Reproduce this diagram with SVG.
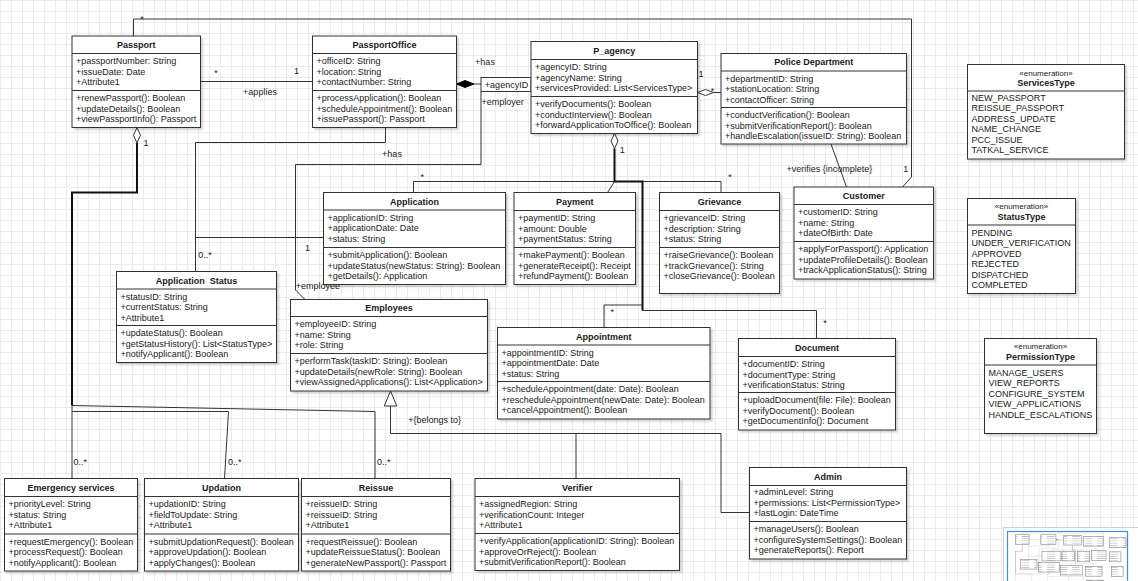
<svg xmlns="http://www.w3.org/2000/svg" width="1138" height="581" viewBox="0 0 1138 581">
<defs>
<style>
text{font-family:"Liberation Sans",Arial,sans-serif;font-size:9px;fill:#1a1a1a}
.t{font-weight:bold;text-anchor:middle}
.st{font-size:8px;text-anchor:middle}
.m{text-anchor:middle}
.box{fill:#fff;stroke:#333;stroke-width:1;filter:url(#sh)}
.sep{fill:none;stroke:#333;stroke-width:1}
.ln{fill:none;stroke:#333;stroke-width:1}
.thick{fill:none;stroke:#111;stroke-width:2}
.dh{fill:#fff;stroke:#333;stroke-width:1}
.df{fill:#000;stroke:#000;stroke-width:1}
.mm{fill:url(#mmt);stroke:#777;stroke-width:5}
</style>
<pattern id="grid" width="11" height="11" patternUnits="userSpaceOnUse"><path d="M0.5 0V11M0 0.5H11" fill="none" stroke="#ebebeb" stroke-width="1"/></pattern>
<pattern id="mmt" width="120" height="21" patternUnits="userSpaceOnUse"><rect width="120" height="21" fill="#fff"/><rect x="10" y="8" width="75" height="6" fill="#b5b5b5"/></pattern>
<filter id="sh" x="-5%" y="-5%" width="115%" height="120%"><feDropShadow dx="2" dy="2" stdDeviation="1" flood-color="#000" flood-opacity="0.18"/></filter>
</defs>
<rect width="1138" height="581" fill="#fff"/>
<rect width="1138" height="581" fill="url(#grid)"/>

<g id="connectors">
<g id="conn-lines">
<path class="ln" d="M133.5 36V19H911.5V177L902.5 187"/>
<path class="ln" d="M200.5 81.5H312.5"/>
<path class="ln" d="M474 84H481"/>
<path class="df" d="M456.5 84L465 80.5L474 84L465 87.5Z"/>
<rect x="481" y="77.5" width="50" height="14" fill="#fff" stroke="#333"/>
<path class="ln" d="M481 91.5V164.5H295.5V290L305 299.5"/>
<path class="ln" d="M385.5 127.5V142.5H195.5V271.5"/>
<path class="ln" d="M323.5 237.5H195.5"/>
<path class="ln" d="M614.5 181.5H413.5V192.5M614.5 181.5L607.5 192.5M642.5 181.5H721V192.5M642.5 305H604V327.5M642.5 310.5H816.5V338.5"/>
<path class="thick" d="M614.5 148.5V181.5H642.5V310.5"/>
<path class="dh" d="M614.5 133.5L618 141L614.5 148.5L611 141Z"/>
<path class="ln" d="M713.5 92.5H721"/>
<path class="dh" d="M697.5 92.5L705.5 89.5L713.5 92.5L705.5 95.5Z"/>
<path class="ln" d="M831 144L846.5 187"/>
<path class="ln" d="M72 405.5V478.5M72 411.5H228.5L224.5 478.5M72 405.5L375 411.5V478.5"/>
<path class="thick" d="M137 143V192.5H72V405.5"/>
<path class="dh" d="M137 127.5L140.5 135.25L137 143L133.5 135.25Z"/>
<path class="ln" d="M390.5 406V433.5H721V512.5H749.5M576 433.5V478.5"/>
<path class="dh" d="M390.5 391L396.8 406H384.2Z"/>
</g>
<text class="m" x="142" y="21.9">*</text>
<text class="m" x="216" y="76.2">*</text>
<text class="m" x="296.5" y="74.2">1</text>
<text class="m" x="260" y="94.9">+applies</text>
<text class="m" x="485" y="64.9">+has</text>
<text class="m" x="506.5" y="88.2">+agencyID</text>
<text x="481.5" y="104.9">+employer</text>
<text class="m" x="392" y="156.9">+has</text>
<text class="m" x="307.5" y="250.5">1</text>
<text x="198.3" y="258.2">0..*</text>
<text x="295.7" y="289.2">+employee</text>
<text class="m" x="422.3" y="180.2">*</text>
<text class="m" x="622.3" y="152.5">1</text>
<text class="m" x="730" y="180.2">*</text>
<text class="m" x="612.3" y="314.5">*</text>
<text class="m" x="825" y="325.9">*</text>
<text class="m" x="701" y="77.2">1</text>
<text class="m" x="712.5" y="93.5">*</text>
<text class="m" x="829.3" y="172.2">+verifies {incomplete}</text>
<text class="m" x="905.7" y="171.5">1</text>
<text class="m" x="146" y="145.9">1</text>
<text x="73.5" y="464.9">0..*</text>
<text x="228" y="464.9">0..*</text>
<text x="377" y="464.9">0..*</text>
<text x="408.3" y="423.2">+{belongs to}</text>
</g>

<g id="passport">
<rect class="box" x="72" y="36" width="128.5" height="91.5"/>
<path class="sep" d="M72 53.5H200.5M72 90.5H200.5"/>
<text class="t" x="136.25" y="47.9">Passport</text>
<text x="76" y="64.1">+passportNumber: String</text>
<text x="76" y="74.6">+issueDate: Date</text>
<text x="76" y="85.1">+Attribute1</text>
<text x="76" y="101.1">+renewPassport(): Boolean</text>
<text x="76" y="111.6">+updateDetails(): Boolean</text>
<text x="76" y="122.1">+viewPassportInfo(): Passport</text>
</g>

<g id="passportoffice">
<rect class="box" x="312.5" y="36" width="144" height="91.5"/>
<path class="sep" d="M312.5 53.5H456.5M312.5 90.5H456.5"/>
<text class="t" x="384.5" y="47.9">PassportOffice</text>
<text x="316.5" y="64.1">+officeID: String</text>
<text x="316.5" y="74.6">+location: String</text>
<text x="316.5" y="85.1">+contactNumber: String</text>
<text x="316.5" y="101.1">+processApplication(): Boolean</text>
<text x="316.5" y="111.6">+scheduleAppointment(): Boolean</text>
<text x="316.5" y="122.1">+issuePassport(): Passport</text>
</g>

<g id="p_agency">
<rect class="box" x="531" y="41.5" width="166.5" height="92"/>
<path class="sep" d="M531 59.5H697.5M531 96.5H697.5"/>
<text class="t" x="614.25" y="53.7">P_agency</text>
<text x="535" y="70.1">+agencyID: String</text>
<text x="535" y="80.6">+agencyName: String</text>
<text x="535" y="91.1">+servicesProvided: List&lt;ServicesType&gt;</text>
<text x="535" y="107.1">+verifyDocuments(): Boolean</text>
<text x="535" y="117.6">+conductInterview(): Boolean</text>
<text x="535" y="128.1">+forwardApplicationToOffice(): Boolean</text>
</g>

<g id="police_department">
<rect class="box" x="721" y="53.5" width="185.5" height="90.5"/>
<path class="sep" d="M721 71H906.5M721 107.5H906.5"/>
<text class="t" x="813.75" y="65.45">Police Department</text>
<text x="725" y="81.6">+departmentID: String</text>
<text x="725" y="92.1">+stationLocation: String</text>
<text x="725" y="102.6">+contactOfficer: String</text>
<text x="725" y="118.1">+conductVerification(): Boolean</text>
<text x="725" y="128.6">+submitVerificationReport(): Boolean</text>
<text x="725" y="139.1">+handleEscalation(issueID: String): Boolean</text>
</g>

<g id="customer">
<rect class="box" x="794" y="187" width="139.5" height="92"/>
<path class="sep" d="M794 204.5H933.5M794 241.5H933.5"/>
<text class="t" x="863.75" y="199">Customer</text>
<text x="798" y="215.1">+customerID: String</text>
<text x="798" y="225.6">+name: String</text>
<text x="798" y="236.1">+dateOfBirth: Date</text>
<text x="798" y="252.1">+applyForPassport(): Application</text>
<text x="798" y="262.6">+updateProfileDetails(): Boolean</text>
<text x="798" y="273.1">+trackApplicationStatus(): String</text>
</g>

<g id="application">
<rect class="box" x="323.5" y="192.5" width="182" height="92"/>
<path class="sep" d="M323.5 210H505.5M323.5 247.5H505.5"/>
<text class="t" x="414.5" y="204.5">Application</text>
<text x="327.5" y="220.6">+applicationID: String</text>
<text x="327.5" y="231.1">+applicationDate: Date</text>
<text x="327.5" y="241.6">+status: String</text>
<text x="327.5" y="258.1">+submitApplication(): Boolean</text>
<text x="327.5" y="268.6">+updateStatus(newStatus: String): Boolean</text>
<text x="327.5" y="279.1">+getDetails(): Application</text>
</g>

<g id="payment">
<rect class="box" x="514" y="192.5" width="121.5" height="92"/>
<path class="sep" d="M514 210.5H635.5M514 247.5H635.5"/>
<text class="t" x="574.75" y="204.7">Payment</text>
<text x="518" y="221.1">+paymentID: String</text>
<text x="518" y="231.6">+amount: Double</text>
<text x="518" y="242.1">+paymentStatus: String</text>
<text x="518" y="258.1">+makePayment(): Boolean</text>
<text x="518" y="268.6">+generateReceipt(): Receipt</text>
<text x="518" y="279.1">+refundPayment(): Boolean</text>
</g>

<g id="grievance">
<rect class="box" x="659.5" y="192.5" width="120" height="101"/>
<path class="sep" d="M659.5 210.5H779.5M659.5 247.5H779.5"/>
<text class="t" x="719.5" y="204.7">Grievance</text>
<text x="663.5" y="221.1">+grievanceID: String</text>
<text x="663.5" y="231.6">+description: String</text>
<text x="663.5" y="242.1">+status: String</text>
<text x="663.5" y="258.1">+raiseGrievance(): Boolean</text>
<text x="663.5" y="268.6">+trackGrievance(): String</text>
<text x="663.5" y="279.1">+closeGrievance(): Boolean</text>
</g>

<g id="application_status">
<rect class="box" x="116.5" y="271.5" width="160" height="91"/>
<path class="sep" d="M116.5 289H276.5M116.5 325.5H276.5"/>
<text class="t" x="196.5" y="283.5" style="white-space:pre">Application  Status</text>
<text x="120.5" y="299.6">+statusID: String</text>
<text x="120.5" y="310.1">+currentStatus: String</text>
<text x="120.5" y="320.6">+Attribute1</text>
<text x="120.5" y="336.1">+updateStatus(): Boolean</text>
<text x="120.5" y="346.6">+getStatusHistory(): List&lt;StatusType&gt;</text>
<text x="120.5" y="357.1">+notifyApplicant(): Boolean</text>
</g>

<g id="employees">
<rect class="box" x="290.5" y="299.5" width="197" height="91.5"/>
<path class="sep" d="M290.5 316.5H487.5M290.5 353.5H487.5"/>
<text class="t" x="389" y="311.2">Employees</text>
<text x="294.5" y="327.1">+employeeID: String</text>
<text x="294.5" y="337.6">+name: String</text>
<text x="294.5" y="348.1">+role: String</text>
<text x="294.5" y="364.1">+performTask(taskID: String): Boolean</text>
<text x="294.5" y="374.6">+updateDetails(newRole: String): Boolean</text>
<text x="294.5" y="385.1">+viewAssignedApplications(): List&lt;Application&gt;</text>
</g>

<g id="appointment">
<rect class="box" x="497.5" y="327.5" width="212.5" height="91.5"/>
<path class="sep" d="M497.5 345H710M497.5 381.5H710"/>
<text class="t" x="603.75" y="339.5">Appointment</text>
<text x="501.5" y="355.6">+appointmentID: String</text>
<text x="501.5" y="366.1">+appointmentDate: Date</text>
<text x="501.5" y="376.6">+status: String</text>
<text x="501.5" y="392.1">+scheduleAppointment(date: Date): Boolean</text>
<text x="501.5" y="402.6">+rescheduleAppointment(newDate: Date): Boolean</text>
<text x="501.5" y="413.1">+cancelAppointment(): Boolean</text>
</g>

<g id="document">
<rect class="box" x="738.5" y="338.5" width="157" height="91.5"/>
<path class="sep" d="M738.5 356.5H895.5M738.5 392.5H895.5"/>
<text class="t" x="817" y="350.7">Document</text>
<text x="742.5" y="367.1">+documentID: String</text>
<text x="742.5" y="377.6">+documentType: String</text>
<text x="742.5" y="388.1">+verificationStatus: String</text>
<text x="742.5" y="403.1">+uploadDocument(file: File): Boolean</text>
<text x="742.5" y="413.6">+verifyDocument(): Boolean</text>
<text x="742.5" y="424.1">+getDocumentInfo(): Document</text>
</g>

<g id="emergency_services">
<rect class="box" x="4.5" y="478.5" width="133" height="92.5"/>
<path class="sep" d="M4.5 496.5H137.5M4.5 534H137.5"/>
<text class="t" x="71" y="490.7">Emergency services</text>
<text x="8.5" y="507.1">+priorityLevel: String</text>
<text x="8.5" y="517.6">+status: String</text>
<text x="8.5" y="528.1">+Attribute1</text>
<text x="8.5" y="544.6">+requestEmergency(): Boolean</text>
<text x="8.5" y="555.1">+processRequest(): Boolean</text>
<text x="8.5" y="565.6">+notifyApplicant(): Boolean</text>
</g>

<g id="updation">
<rect class="box" x="144.5" y="478.5" width="154" height="92.5"/>
<path class="sep" d="M144.5 496.5H298.5M144.5 534H298.5"/>
<text class="t" x="221.5" y="490.7">Updation</text>
<text x="148.5" y="507.1">+updationID: String</text>
<text x="148.5" y="517.6">+fieldToUpdate: String</text>
<text x="148.5" y="528.1">+Attribute1</text>
<text x="148.5" y="544.6">+submitUpdationRequest(): Boolean</text>
<text x="148.5" y="555.1">+approveUpdation(): Boolean</text>
<text x="148.5" y="565.6">+applyChanges(): Boolean</text>
</g>

<g id="reissue">
<rect class="box" x="301.5" y="478.5" width="149" height="92.5"/>
<path class="sep" d="M301.5 496.5H450.5M301.5 534H450.5"/>
<text class="t" x="376" y="490.7">Reissue</text>
<text x="305.5" y="507.1">+reissueID: String</text>
<text x="305.5" y="517.6">+reissueID: String</text>
<text x="305.5" y="528.1">+Attribute1</text>
<text x="305.5" y="544.6">+requestReissue(): Boolean</text>
<text x="305.5" y="555.1">+updateReissueStatus(): Boolean</text>
<text x="305.5" y="565.6">+generateNewPassport(): Passport</text>
</g>

<g id="verifier">
<rect class="box" x="475" y="478.5" width="204.5" height="92"/>
<path class="sep" d="M475 496.5H679.5M475 533.5H679.5"/>
<text class="t" x="577.25" y="490.7">Verifier</text>
<text x="479" y="507.1">+assignedRegion: String</text>
<text x="479" y="517.6">+verificationCount: Integer</text>
<text x="479" y="528.1">+Attribute1</text>
<text x="479" y="544.1">+verifyApplication(applicationID: String): Boolean</text>
<text x="479" y="554.6">+approveOrReject(): Boolean</text>
<text x="479" y="565.1">+submitVerificationReport(): Boolean</text>
</g>

<g id="admin">
<rect class="box" x="749.5" y="467.5" width="157" height="91.5"/>
<path class="sep" d="M749.5 485.5H906.5M749.5 521.5H906.5"/>
<text class="t" x="828" y="479.7">Admin</text>
<text x="753.5" y="495.3">+adminLevel: String</text>
<text x="753.5" y="505.8">+permissions: List&lt;PermissionType&gt;</text>
<text x="753.5" y="516.3">+lastLogin: DateTime</text>
<text x="753.5" y="532.1">+manageUsers(): Boolean</text>
<text x="753.5" y="542.6">+configureSystemSettings(): Boolean</text>
<text x="753.5" y="553.1">+generateReports(): Report</text>
</g>

<g id="services_type">
<rect class="box" x="967.5" y="64.5" width="157" height="94.5"/>
<path class="sep" d="M967.5 91H1124.5"/>
<text class="st" x="1046" y="75.5">«enumeration»</text>
<text class="t" x="1046" y="85.5">ServicesType</text>
<text x="971.5" y="100.9">NEW_PASSPORT</text>
<text x="971.5" y="111.4">REISSUE_PASSPORT</text>
<text x="971.5" y="121.9">ADDRESS_UPDATE</text>
<text x="971.5" y="132.4">NAME_CHANGE</text>
<text x="971.5" y="142.9">PCC_ISSUE</text>
<text x="971.5" y="153.4">TATKAL_SERVICE</text>
</g>

<g id="status_type">
<rect class="box" x="967.5" y="198.5" width="108" height="95"/>
<path class="sep" d="M967.5 225H1075.5"/>
<text class="st" x="1021.5" y="208.5">«enumeration»</text>
<text class="t" x="1021.5" y="219.9">StatusType</text>
<text x="971.5" y="235.9">PENDING</text>
<text x="971.5" y="246.3">UNDER_VERIFICATION</text>
<text x="971.5" y="256.7">APPROVED</text>
<text x="971.5" y="267.1">REJECTED</text>
<text x="971.5" y="277.5">DISPATCHED</text>
<text x="971.5" y="287.9">COMPLETED</text>
</g>

<g id="permission_type">
<rect class="box" x="984.5" y="338.5" width="112" height="95"/>
<path class="sep" d="M984.5 365H1096.5"/>
<text class="st" x="1040.5" y="348.5">«enumeration»</text>
<text class="t" x="1040.5" y="359.9">PermissionType</text>
<text x="988.5" y="375.9">MANAGE_USERS</text>
<text x="988.5" y="386.3">VIEW_REPORTS</text>
<text x="988.5" y="396.7">CONFIGURE_SYSTEM</text>
<text x="988.5" y="407.1">VIEW_APPLICATIONS</text>
<text x="988.5" y="417.5">HANDLE_ESCALATIONS</text>
</g>

<g id="minimap">
<rect x="1003.5" y="527.5" width="140" height="60" fill="#fff" stroke="#cfcfcf" filter="url(#sh)"/>
<g transform="translate(1008 531) scale(0.105)">
<use href="#conn-lines"/>
<rect class="mm" x="72" y="36" width="128.5" height="91.5"/>
<rect class="mm" x="312.5" y="36" width="144" height="91.5"/>
<rect class="mm" x="531" y="41.5" width="166.5" height="92"/>
<rect class="mm" x="721" y="53.5" width="185.5" height="90.5"/>
<rect class="mm" x="794" y="187" width="139.5" height="92"/>
<rect class="mm" x="323.5" y="192.5" width="182" height="92"/>
<rect class="mm" x="514" y="192.5" width="121.5" height="92"/>
<rect class="mm" x="659.5" y="192.5" width="120" height="101"/>
<rect class="mm" x="116.5" y="271.5" width="160" height="91"/>
<rect class="mm" x="290.5" y="299.5" width="197" height="91.5"/>
<rect class="mm" x="497.5" y="327.5" width="212.5" height="91.5"/>
<rect class="mm" x="738.5" y="338.5" width="157" height="91.5"/>
<rect class="mm" x="4.5" y="478.5" width="133" height="92.5"/>
<rect class="mm" x="144.5" y="478.5" width="154" height="92.5"/>
<rect class="mm" x="301.5" y="478.5" width="149" height="92.5"/>
<rect class="mm" x="475" y="478.5" width="204.5" height="92"/>
<rect class="mm" x="749.5" y="467.5" width="157" height="91.5"/>
<rect class="mm" x="967.5" y="64.5" width="157" height="94.5"/>
<rect class="mm" x="967.5" y="198.5" width="108" height="95"/>
<rect class="mm" x="984.5" y="338.5" width="112" height="95"/>
</g>
<rect x="1007.5" y="531.5" width="120" height="60" fill="none" stroke="#3d8eea" stroke-width="1.2"/>
</g>
</svg>
